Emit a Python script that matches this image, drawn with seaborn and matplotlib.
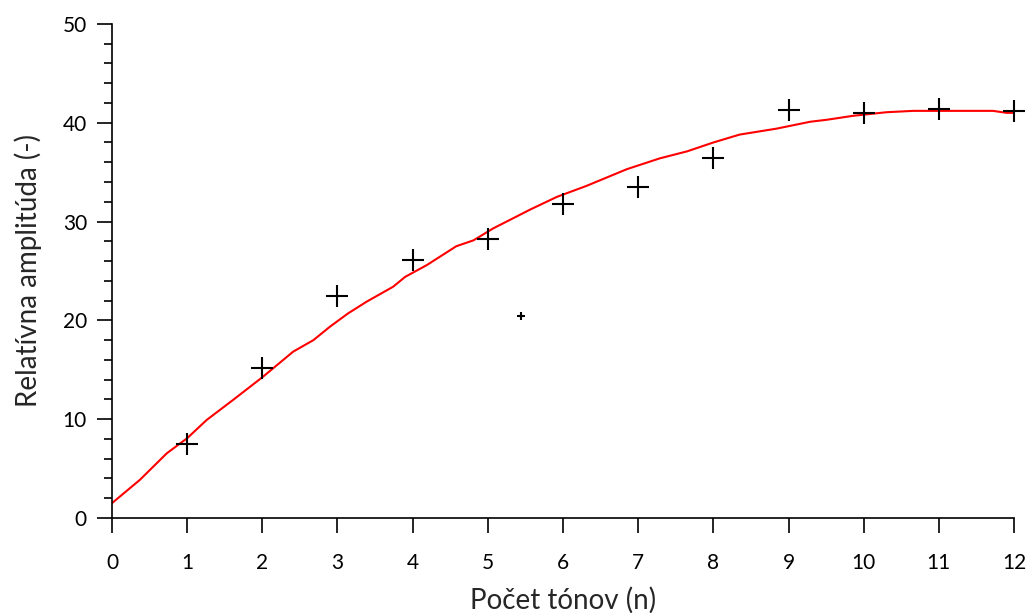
import numpy as np
import pandas as pd
import matplotlib
matplotlib.use("Agg")
import matplotlib.pyplot as plt
import seaborn as sns
from matplotlib.ticker import MultipleLocator

# measured points
tones = [1, 2, 3, 4, 5, 6, 7, 8, 9, 10, 11, 12]
amplitude = [7.5, 15.2, 22.5, 26.1, 28.2, 31.8, 33.5, 36.4, 41.3, 41.0, 41.4, 41.2]

# stray small marker
extra_x = [5.44]
extra_y = [20.45]

curve_x = [0.0, 0.37, 0.73, 1.0, 1.26, 1.61, 2.01, 2.41, 2.68, 2.90, 3.14, 3.39,
           3.74, 3.90, 4.19, 4.58, 4.81, 5.07, 5.38, 5.56, 5.92, 6.31, 6.85,
           7.29, 7.65, 8.0, 8.35, 8.84, 9.29, 9.51, 9.86, 10.30, 10.66, 11.72,
           11.9, 12.0]
curve_y = [1.5, 3.85, 6.55, 8.07, 9.92, 11.94, 14.3, 16.83, 18.0, 19.36, 20.7, 21.9,
           23.4, 24.4, 25.6, 27.5, 28.1, 29.3, 30.5, 31.2, 32.5, 33.6, 35.3,
           36.4, 37.1, 38.0, 38.8, 39.4, 40.1, 40.3, 40.7, 41.06, 41.2, 41.2,
           41.0, 41.0]

sns.set_style("ticks")
plt.rcParams['font.family'] = ['Lato', 'DejaVu Sans']
plt.rcParams.update({
    "xtick.major.size": 11, "ytick.major.size": 11,
    "ytick.minor.size": 5.5,
    "xtick.major.width": 1.2, "ytick.major.width": 1.2, "ytick.minor.width": 1.2,
    "xtick.major.pad": 14, "ytick.major.pad": 7,
    "xtick.labelsize": 15, "ytick.labelsize": 15,
    "xtick.color": "black", "ytick.color": "black",
    "xtick.direction": "out", "ytick.direction": "out",
})

fig = plt.figure(figsize=(10.3, 6.13), dpi=100)
ax = fig.add_axes([0.1087, 0.155, 0.8758, 0.806])

curve = pd.DataFrame({"x": curve_x, "y": curve_y})
pts = pd.DataFrame({"x": tones, "y": amplitude})
extra = pd.DataFrame({"x": extra_x, "y": extra_y})

sns.lineplot(data=curve, x="x", y="y", sort=False, color="red", linewidth=1.5, ax=ax)
sns.scatterplot(data=pts, x="x", y="y", marker="+", s=230, color="black",
                linewidth=1.5, ax=ax, zorder=3, clip_on=False)
sns.scatterplot(data=extra, x="x", y="y", marker="+", s=40, color="black",
                linewidth=1.5, ax=ax, zorder=3)

ax.set_xlim(0, 12)
ax.set_ylim(0, 50)
ax.xaxis.set_major_locator(MultipleLocator(1))
ax.yaxis.set_major_locator(MultipleLocator(10))
ax.yaxis.set_minor_locator(MultipleLocator(2))

sns.despine(ax=ax)
for s in ["left", "bottom"]:
    ax.spines[s].set_linewidth(1.2)
    ax.spines[s].set_color("black")

ax.set_xlabel("Počet tónov (n)", fontsize=20, labelpad=10)
ax.set_ylabel("Relatívna amplitúda (-)", fontsize=20, labelpad=15)

fig.savefig("out.png", dpi=100)
